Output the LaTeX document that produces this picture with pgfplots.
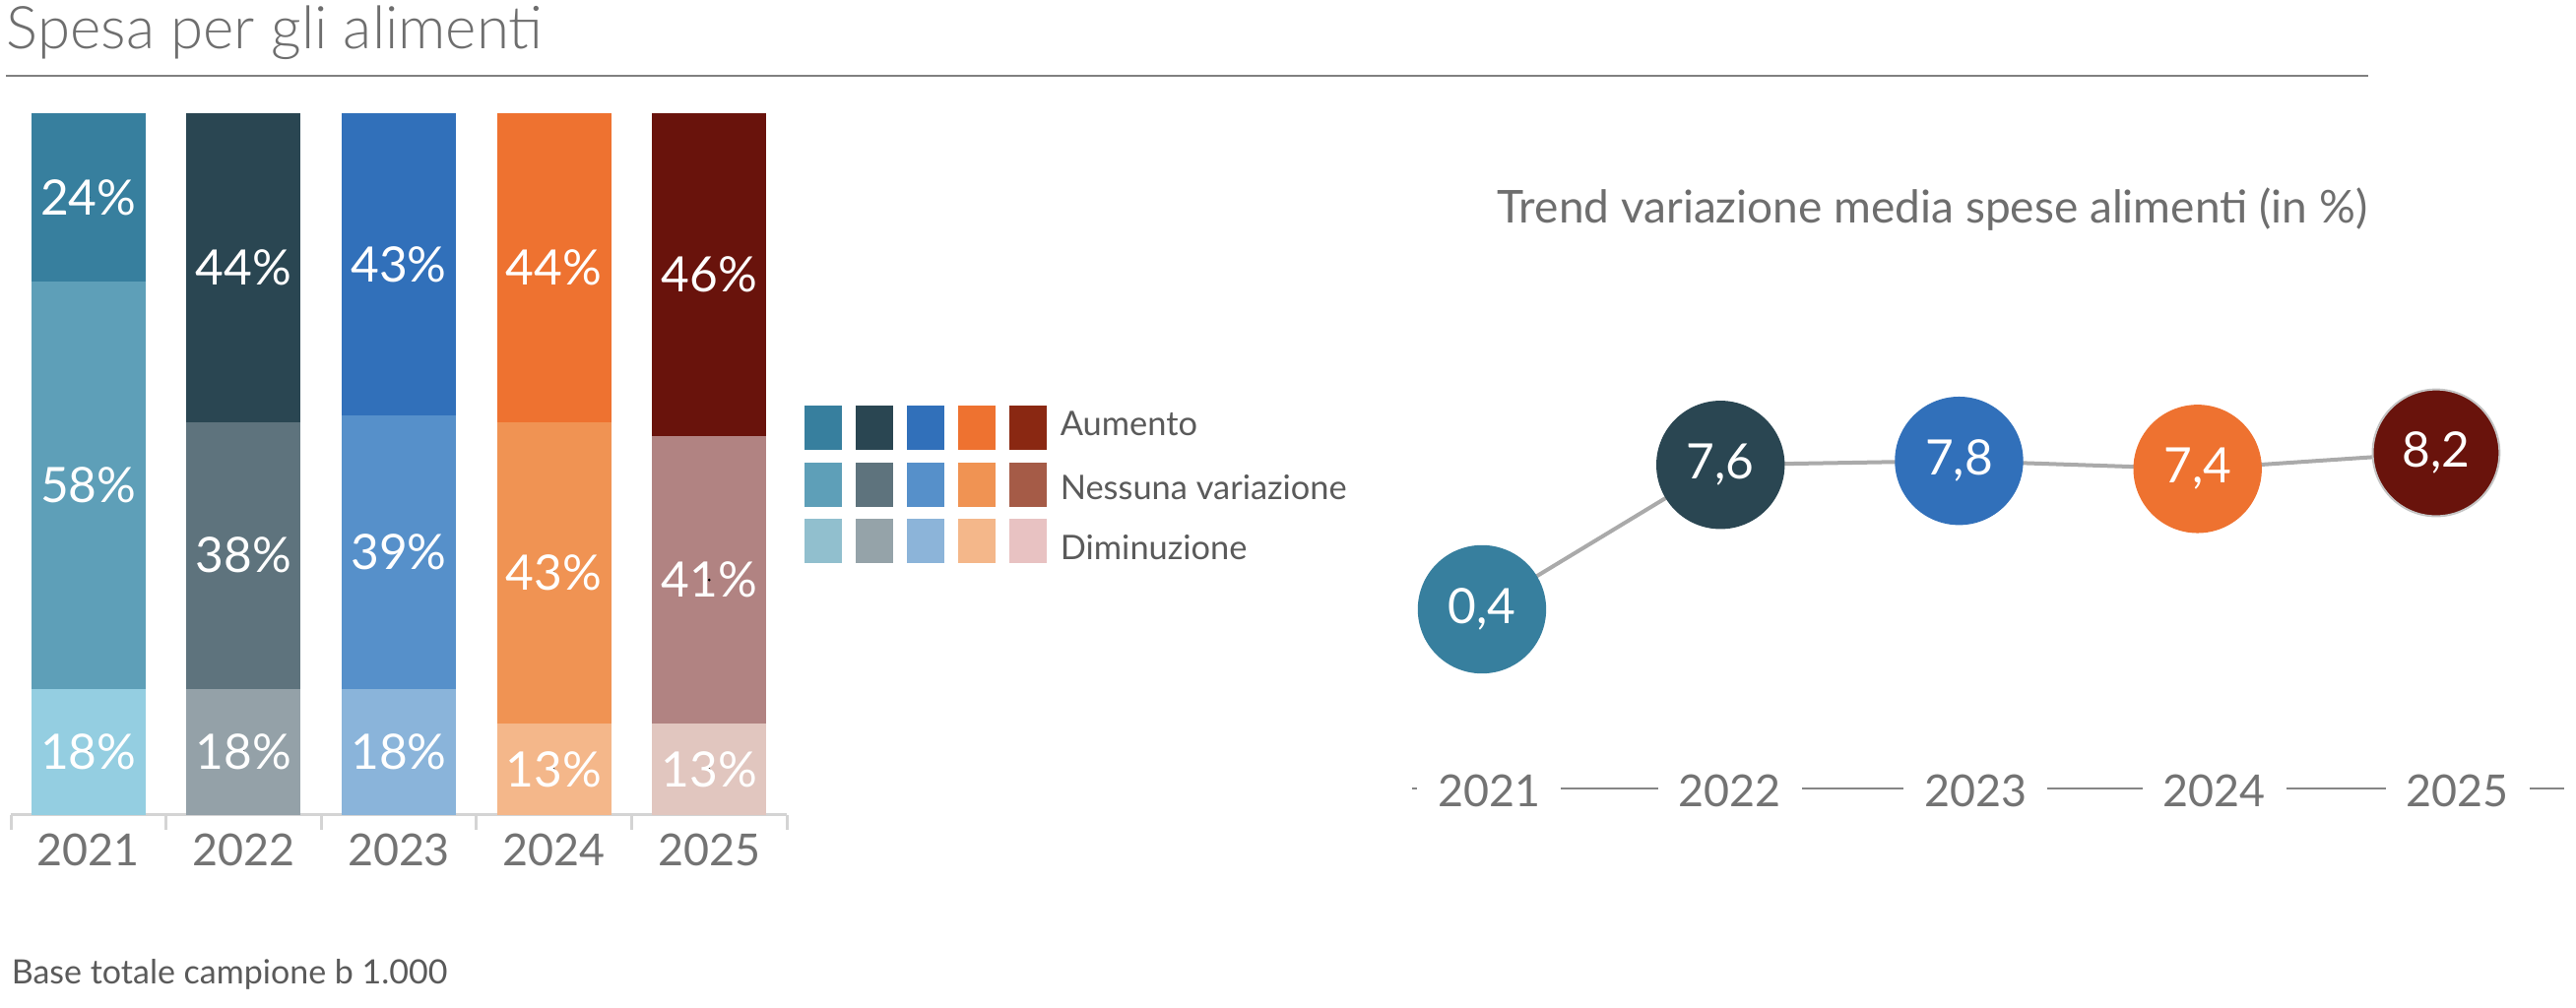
\documentclass[border=0pt]{standalone}
\usepackage{fontspec}
\setmainfont{Lato Light}
\newfontfamily\latoreg{Lato}
\usepackage{pgfplots}
\pgfplotsset{compat=1.18}
\definecolor{c21a}{HTML}{377F9E}\definecolor{c21b}{HTML}{5E9FB8}\definecolor{c21c}{HTML}{94CEE1}
\definecolor{c22a}{HTML}{2A4652}\definecolor{c22b}{HTML}{5E737D}\definecolor{c22c}{HTML}{94A1A8}
\definecolor{c23a}{HTML}{3170BA}\definecolor{c23b}{HTML}{5690CA}\definecolor{c23c}{HTML}{8AB4DA}
\definecolor{c24a}{HTML}{EE7230}\definecolor{c24b}{HTML}{F09353}\definecolor{c24c}{HTML}{F4B78A}
\definecolor{c25a}{HTML}{69130C}\definecolor{c25b}{HTML}{B18382}\definecolor{c25c}{HTML}{E1C6BF}
\definecolor{l11}{HTML}{377F9E}\definecolor{l12}{HTML}{5E9FB8}\definecolor{l13}{HTML}{91BFCE}
\definecolor{l21}{HTML}{2A4652}\definecolor{l22}{HTML}{5E737D}\definecolor{l23}{HTML}{95A3A9}
\definecolor{l31}{HTML}{3170BA}\definecolor{l32}{HTML}{5690CA}\definecolor{l33}{HTML}{8CB4D9}
\definecolor{l41}{HTML}{EE7230}\definecolor{l42}{HTML}{F09353}\definecolor{l43}{HTML}{F4B78A}
\definecolor{l51}{HTML}{8A2812}\definecolor{l52}{HTML}{A55B47}\definecolor{l53}{HTML}{E8C2C2}
\definecolor{titlegray}{HTML}{6E6E6E}
\definecolor{ticktext}{HTML}{737373}
\definecolor{legtext}{HTML}{5A5A5A}
\definecolor{axisgray}{HTML}{D4D4D4}
\definecolor{rulegray}{HTML}{808080}
\definecolor{raxis}{HTML}{858585}
\definecolor{linegray}{HTML}{AAAAAA}
\definecolor{ringgray}{HTML}{C4C4C4}
\begin{document}
\begin{tikzpicture}
% titles and footer
\node[anchor=base west, inner sep=0pt, text=titlegray, font=\fontsize{15}{18}\selectfont] at (1.5pt,-12.4pt) {Spesa per gli alimenti};
\draw[rulegray, line width=0.4pt] (1.5pt,-19.25pt) -- (601.25pt,-19.25pt);
\node[anchor=base west, inner sep=0pt, text=legtext, font=\latoreg\fontsize{8.5}{10}\selectfont] at (2.75pt,-250pt) {Base totale campione b 1.000};
\node[anchor=base west, inner sep=0pt, text=titlegray, font=\latoreg\fontsize{11.5}{13}\selectfont] at (380pt,-56.75pt) {Trend variazione media spese alimenti (in \%)};
% legend
\foreach \c/\xx in {1/204.25,2/217.25,3/230.25,4/243.25,5/256.25}{
  \foreach \r/\yy in {1/103,2/117.4,3/131.75}{
    \fill[l\c\r] (\xx pt,-\yy pt) rectangle ++(9.5pt,-11.25pt);
  }
}
\node[anchor=base west, inner sep=0pt, text=legtext, font=\latoreg\fontsize{8.6}{10}\selectfont] at (269pt,-110.75pt) {Aumento};
\node[anchor=base west, inner sep=0pt, text=legtext, font=\latoreg\fontsize{8.6}{10}\selectfont] at (269pt,-127pt) {Nessuna variazione};
\node[anchor=base west, inner sep=0pt, text=legtext, font=\latoreg\fontsize{8.6}{10}\selectfont] at (269pt,-142.25pt) {Diminuzione};
% stacked bars
\begin{axis}[
  at={(2.75pt,-207pt)}, anchor=south west, scale only axis,
  width=197pt, height=178.25pt,
  xmin=-0.5, xmax=4.5, ymin=0, ymax=100,
  ybar stacked, bar width=29pt,
  axis x line=bottom, axis y line=none,
  x axis line style={-, draw=axisgray, line width=0.75pt},
  xtick={0,1,2,3,4}, xticklabels={2021,2022,2023,2024,2025},
  ytick=\empty,
  major tick length=0pt,
  minor xtick={-0.5,0.5,1.5,2.5,3.5,4.5},
  minor tick length=3.75pt,
  tick align=outside,
  minor tick style={draw=axisgray, line width=0.75pt},
  xticklabel style={font=\latoreg\fontsize{11.2}{13}\selectfont, text=ticktext, anchor=center, inner sep=0pt, yshift=-8.9pt},
  every axis plot/.append style={draw=none},
]
% Diminuzione
\addplot[fill=c21c] coordinates {(0,18)(1,0)(2,0)(3,0)(4,0)};
\addplot[fill=c22c] coordinates {(0,0)(1,18)(2,0)(3,0)(4,0)};
\addplot[fill=c23c] coordinates {(0,0)(1,0)(2,18)(3,0)(4,0)};
\addplot[fill=c24c] coordinates {(0,0)(1,0)(2,0)(3,13)(4,0)};
\addplot[fill=c25c] coordinates {(0,0)(1,0)(2,0)(3,0)(4,13)};
% Nessuna variazione
\addplot[fill=c21b] coordinates {(0,58)(1,0)(2,0)(3,0)(4,0)};
\addplot[fill=c22b] coordinates {(0,0)(1,38)(2,0)(3,0)(4,0)};
\addplot[fill=c23b] coordinates {(0,0)(1,0)(2,39)(3,0)(4,0)};
\addplot[fill=c24b] coordinates {(0,0)(1,0)(2,0)(3,43)(4,0)};
\addplot[fill=c25b] coordinates {(0,0)(1,0)(2,0)(3,0)(4,41)};
% Aumento
\addplot[fill=c21a] coordinates {(0,24)(1,0)(2,0)(3,0)(4,0)};
\addplot[fill=c22a] coordinates {(0,0)(1,44)(2,0)(3,0)(4,0)};
\addplot[fill=c23a] coordinates {(0,0)(1,0)(2,43)(3,0)(4,0)};
\addplot[fill=c24a] coordinates {(0,0)(1,0)(2,0)(3,44)(4,0)};
\addplot[fill=c25a] coordinates {(0,0)(1,0)(2,0)(3,0)(4,46)};
\end{axis}
% bar labels
\begin{axis}[
  at={(2.75pt,-207pt)}, anchor=south west, scale only axis,
  width=197pt, height=178.25pt,
  xmin=-0.5, xmax=4.5, ymin=0, ymax=100,
  axis lines=none, ticks=none, clip=false,
]
\addplot[only marks, mark=*, mark size=0.1pt, mark options={draw=none, fill=none}, nodes near coords, point meta=explicit symbolic,
  nodes near coords style={anchor=center, text=white, inner sep=0pt, font=\latoreg\fontsize{12.4}{14}\selectfont}]
  table[meta=lbl] {
x y lbl
0 9 18\%
0 47 58\%
0 88 24\%
1 9 18\%
1 37 38\%
1 78 44\%
2 9 18\%
2 37.5 39\%
2 78.5 43\%
3 6.5 13\%
3 34.5 43\%
3 78 44\%
4 6.5 13\%
4 33.5 41\%
4 77 46\%
};
\end{axis}
% trend chart
\begin{axis}[
  at={(358.5pt,-200.25pt)}, anchor=south west, scale only axis,
  width=292.5pt, height=104.6pt,
  xmin=-0.293, xmax=4.537, ymin=-8.53, ymax=12,
  clip=false, set layers,
  axis x line=bottom, axis y line=none,
  x axis line style={-, draw=raxis, line width=0.5pt},
  xtick={0.03,1.04,2.07,3.07,4.09}, xticklabels={2021,2022,2023,2024,2025},
  ytick=\empty, major tick length=0pt,
  xticklabel style={font=\latoreg\fontsize{11.2}{13}\selectfont, text=ticktext, fill=white, anchor=center, inner xsep=5.25pt, inner ysep=1pt, yshift=-0.6pt},
  /pgf/number format/use comma, /pgf/number format/fixed, /pgf/number format/fixed zerofill,
  /pgf/number format/precision=1, /pgf/number format/assume math mode=true,
  nodes near coords style={anchor=center, text=white, inner sep=0pt, font=\latoreg\fontsize{12.4}{14}\selectfont},
]
\addplot[draw=linegray, line width=1pt, mark=none] coordinates {(0,0.4)(1,7.6)(2,7.8)(3,7.4)(4,8.2)};
\addplot[only marks, mark=*, mark size=16.1pt, mark options={fill=c21a, draw=c21a}, nodes near coords] coordinates {(0,0.4)};
\addplot[only marks, mark=*, mark size=16.1pt, mark options={fill=c22a, draw=c22a}, nodes near coords] coordinates {(1,7.6)};
\addplot[only marks, mark=*, mark size=16.1pt, mark options={fill=c23a, draw=c23a}, nodes near coords] coordinates {(2,7.8)};
\addplot[only marks, mark=*, mark size=16.1pt, mark options={fill=c24a, draw=c24a}, nodes near coords] coordinates {(3,7.4)};
\addplot[only marks, mark=*, mark size=16.1pt, mark options={fill=c25a, draw=ringgray, line width=0.5pt}, nodes near coords] coordinates {(4,8.2)};
\end{axis}
\pgfresetboundingbox
\path[use as bounding box] (0pt,0pt) rectangle (654pt,-256pt);
\end{tikzpicture}
\end{document}
